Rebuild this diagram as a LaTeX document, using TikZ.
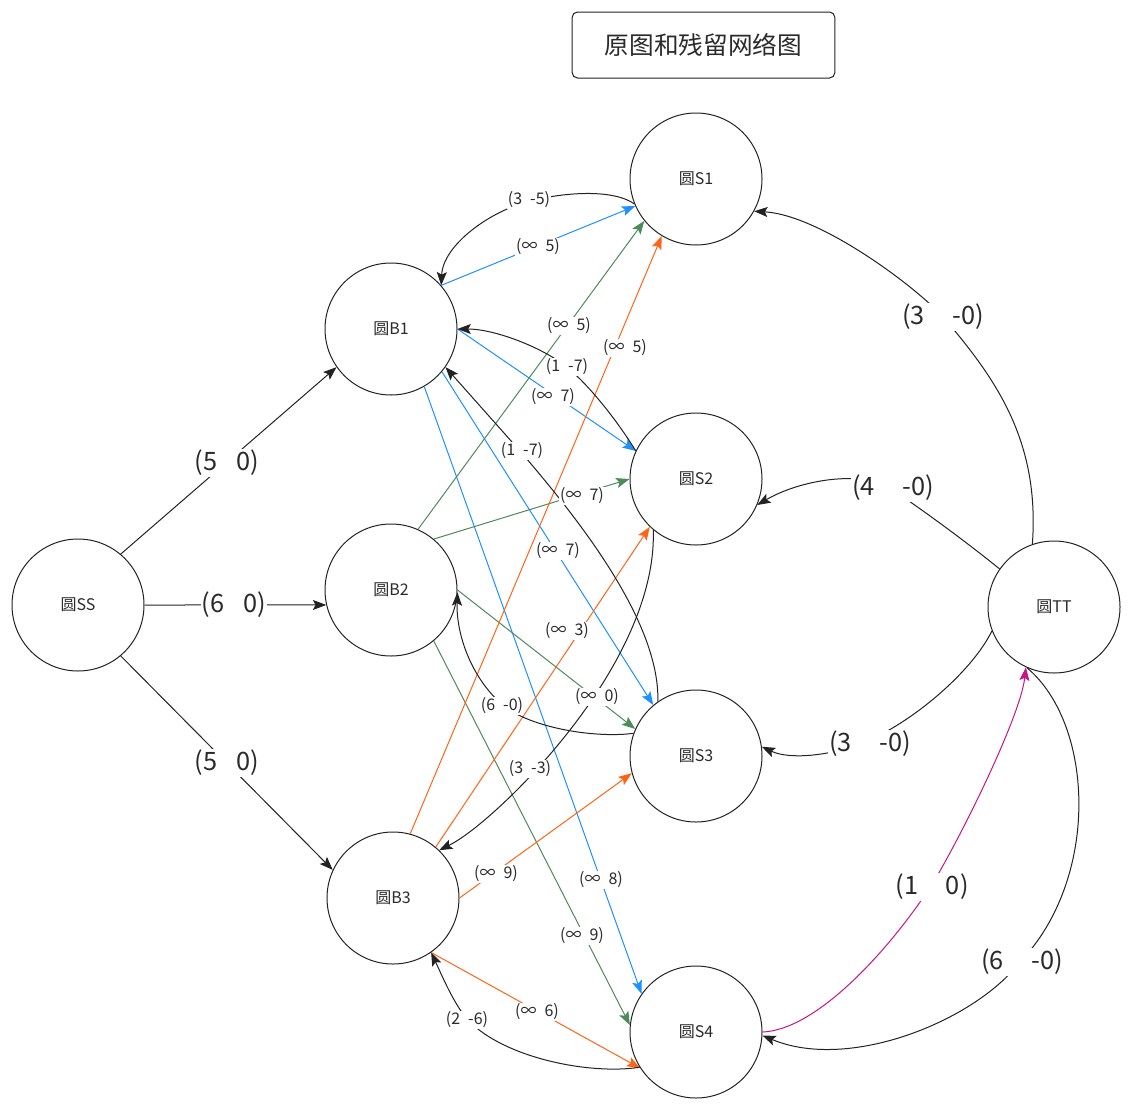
\documentclass[tikz,border=0pt]{standalone}
\usepackage{fontspec}
\setmainfont{Noto Sans CJK SC}
\usetikzlibrary{arrows.meta}
\definecolor{cblue}{HTML}{1E90FF}
\definecolor{cgreen}{HTML}{4D8B58}
\definecolor{corange}{HTML}{FF6414}
\definecolor{cmag}{HTML}{C71585}
\definecolor{cline}{HTML}{222222}
\definecolor{ctext}{HTML}{2A2A2A}
\newcommand\gapS{\hspace{0.5em}}
\newcommand\gapB{\hspace{0.75em}}
\newcommand\gapC{\hspace{1.1em}}
\begin{document}
\begin{tikzpicture}[x=0.75pt,y=-0.75pt,
  nd/.style={circle,draw=cline,line width=0.75pt,minimum size=99pt,inner sep=0pt,
    font=\fontsize{12}{14}\selectfont,text=ctext},
  ed/.style={draw=#1,line width=0.75pt,-{Stealth[length=10pt,width=7.5pt,inset=2pt]}},
  ed/.default=cline,
  sl/.style={fill=white,inner sep=1pt,text=ctext,font=\fontsize{12}{14}\selectfont},
  bl/.style={fill=white,inner sep=1pt,text=ctext,font=\fontsize{19}{21}\selectfont},
  titlebox/.style={draw=cline,line width=0.75pt,rounded corners=4pt,minimum width=197pt,
    minimum height=49.5pt,inner sep=0pt,text=ctext,font=\fontsize{18.5}{20}\selectfont}]
\useasboundingbox (0,0) rectangle (1134,1110);

% title
\node[titlebox] (title) at (703.5,45) {原图和残留网络图};

% nodes
\node[nd] (SS) at (78,605) {圆SS};
\node[nd] (B1) at (391,329) {圆B1};
\node[nd] (B2) at (391,590) {圆B2};
\node[nd] (B3) at (393,898) {圆B3};
\node[nd] (S1) at (696,179) {圆S1};
\node[nd] (S2) at (696,479) {圆S2};
\node[nd] (S3) at (696,756) {圆S3};
\node[nd] (S4) at (696,1032) {圆S4};
\node[nd] (TT) at (1054,607) {圆TT};

% source edges
\draw[ed] (SS.50) -- (B1.215);
\draw[ed] (SS.0) -- (B2.193);
\draw[ed] (SS.-50) -- (B3.155);

% blue edges from B1
\draw[ed=cblue] (B1.41) -- (S1.204);
\draw[ed=cblue] (B1.0) -- (S2.155);
\draw[ed=cblue] (B1.-40) -- (S3.130);
\draw[ed=cblue] (B1.-60) -- (S4.145);

% green edges from B2
\draw[ed=cgreen] (B2.66) -- (S1.219);
\draw[ed=cgreen] (B2.50) -- (S2.180);
\draw[ed=cgreen] (B2.0) -- (S3.156);
\draw[ed=cgreen] (B2.-50) -- (S4.174);

% orange edges from B3
\draw[ed=corange] (B3.75) -- (S1.239);
\draw[ed=corange] (B3.50) -- (S2.226);
\draw[ed=corange] (B3.0) -- (S3.195);
\draw[ed=corange] (B3.-55) -- (S4.213);

% black reverse curves
\draw[ed] (S1.202) .. controls (615,190) and (570,191) .. (530,201)
  .. controls (490,211) and (443,245) .. (B1.41);
\draw[ed] (S2.155) .. controls (620,425) and (592,388) .. (568,368)
  .. controls (544,348) and (495,329) .. (B1.0);
\draw[ed] (S3.125) .. controls (660,620) and (575,515) .. (520,451) -- (B1.-35);
\draw[ed] (S3.160) .. controls (600,738) and (537,730) .. (505,707)
  .. controls (472,680) and (456,635) .. (B2.-2);
\draw[ed] (S2.230) .. controls (656,610) and (600,700) .. (537,769)
  .. controls (507,802) and (470,835) .. (B3.46);
\draw[ed] (S4.212) .. controls (590,1075) and (505,1058) .. (469,1021)
  .. controls (454.6,1006.2) and (441.3,974) .. (B3.-55);

% sink curves
\draw[ed] (TT.109) .. controls (1040,440) and (995,378) .. (944,318)
  .. controls (916,286.6) and (820,215) .. (S1.-29);
\draw[ed] (TT.145) .. controls (970,545) and (930,515) .. (890,488)
  .. controls (860,470) and (800,480) .. (S2.-23);
\draw[ed] (TT.201) .. controls (972,672) and (910,725) .. (860,744)
  .. controls (830,755.4) and (790,760) .. (S3.8);
\draw[ed] (TT.246) .. controls (1095,725) and (1100,880) .. (1019,963)
  .. controls (975,1020) and (850,1072) .. (S4.-3);
\draw[ed=cmag] (S4.0) .. controls (815,1030) and (885,955) .. (929,889)
  .. controls (951,856) and (1020,720) .. (TT.245);

% big labels
\node[bl] (l01) at (227,463) {(5\gapB0)};
\node[bl] (l02) at (234,605) {(6\gapB0)};
\node[bl] (l03) at (227,763) {(5\gapB0)};
\node[bl] (l04) at (943,317) {(3\gapC-0)};
\node[bl] (l05) at (893,488) {(4\gapC-0)};
\node[bl] (l06) at (870,744) {(3\gapC-0)};
\node[bl] (l07) at (932,887) {(1\gapC0)};
\node[bl] (l08) at (1022,962) {(6\gapC-0)};

% small labels
\node[sl] (m01) at (529,200) {(3\gapS-5)};
\node[sl] (m02) at (538,247) {(∞\gapS5)};
\node[sl] (m03) at (569,326) {(∞\gapS5)};
\node[sl] (m04) at (625,348) {(∞\gapS5)};
\node[sl] (m05) at (567,367) {(1\gapS-7)};
\node[sl] (m06) at (553,397) {(∞\gapS7)};
\node[sl] (m07) at (522,451) {(1\gapS-7)};
\node[sl] (m08) at (582,496) {(∞\gapS7)};
\node[sl] (m09) at (558,551) {(∞\gapS7)};
\node[sl] (m10) at (567,631) {(∞\gapS3)};
\node[sl] (m11) at (597,697) {(∞\gapS0)};
\node[sl] (m12) at (502,706) {(6\gapS-0)};
\node[sl] (m13) at (530,769) {(3\gapS-3)};
\node[sl] (m14) at (496,874) {(∞\gapS9)};
\node[sl] (m15) at (601,880) {(∞\gapS8)};
\node[sl] (m16) at (582,936) {(∞\gapS9)};
\node[sl] (m17) at (537,1012) {(∞\gapS6)};
\node[sl] (m18) at (467,1020) {(2\gapS-6)};
\end{tikzpicture}
\end{document}
